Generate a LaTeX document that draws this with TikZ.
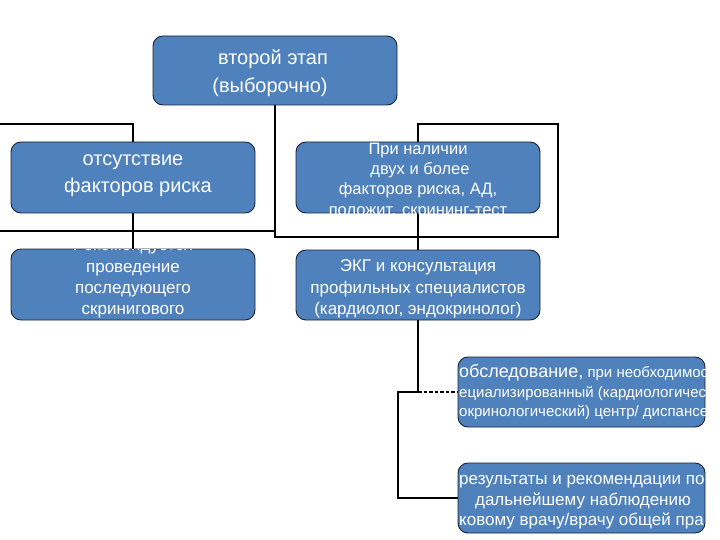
\documentclass[tikz,border=0pt]{standalone}
\usepackage{fontspec}
\setmainfont{Liberation Sans}
\definecolor{boxblue}{RGB}{79,129,189}
\definecolor{boxedge}{RGB}{25,35,55}
\tikzset{
  box/.style={draw=boxedge, line width=0.9pt, fill=boxblue, rounded corners=10pt,
    minimum width=244pt, minimum height=70pt, inner sep=0pt},
  txt/.style={text=white, inner sep=0pt, anchor=base},
  txtl/.style={text=white, inner sep=0pt, anchor=base west},
  conn/.style={draw=black, line width=2pt},
  fA/.style={font=\fontsize{20}{24}\selectfont},
  fC/.style={font=\fontsize{16.5}{20}\selectfont},
  fD/.style={font=\fontsize{17}{20}\selectfont},
  fF/.style={font=\fontsize{15}{18}\selectfont},
}
\begin{document}
\begin{tikzpicture}[x=1pt,y=-1pt]
\useasboundingbox (0,0) rectangle (720,540);
\fill[white] (0,0) rectangle (720,540);

% boxes
\node[box, minimum height=69pt] (A) at (275,70.5) {};
\node[box, minimum height=71pt] (B) at (133,177.5) {};
\node[box, minimum height=71pt] (C) at (418,177.5) {};
\node[box, minimum height=71pt] (D) at (133,284.5) {};
\node[box] (E) at (418,285) {};
\node[box, minimum width=247pt] (F) at (581.5,392) {};
\node[box, minimum width=247pt] (G) at (581.5,498) {};

% connectors
\coordinate (lA) at (0,231);
\coordinate (lB) at (0,124);
\coordinate (rt) at (558,124);
\coordinate (j) at (418,392);
\coordinate (k) at (398,392);
\draw[conn] (A.south) -- ++(0,132) -| (rt) -| (C.north);
\draw[conn] (A.south |- lA) -- (lA);
\draw[conn] (lB) -| (B.north);
\draw[conn] (B.south) -- (D.north);
\draw[conn] (C.south) -- (E.north);
\draw[conn] (E.south) -- (j) -- (k) |- (G.west);
\draw[conn, dash pattern=on 3.5pt off 2pt] (j) -- (F.west);

% texts
\node[txt, fA] (a1) at (273,65) {второй этап};
\node[txt, fA] (a2) at (270,92.5) {(выборочно)};

\node[txt, fA] (b1) at (133,166) {отсутствие};
\node[txt, fA] (b2) at (138,193) {факторов риска};

\begin{scope}
\clip[rounded corners=10pt] (C.south west) rectangle (C.north east);
\node[txt, fC] (c1) at (418,155) {При наличии};
\node[txt, fC] (c2) at (420,175) {двух и более};
\node[txt, fC] (c3) at (418,195) {факторов риска, АД,};
\node[txt, fC] (c4) at (418,215) {положит. скрининг-тест};
\end{scope}

\begin{scope}
\clip[rounded corners=10pt] (D.south west) rectangle (D.north east);
\node[txt, fD] (d0) at (133,251) {Рекомендуется};
\node[txt, fD] (d1) at (133,272) {проведение};
\node[txt, fD] (d2) at (133,293) {последующего};
\node[txt, fD] (d3) at (133,314) {скринигового};
\end{scope}

\node[txt, fD] (e1) at (418,271.5) {ЭКГ и консультация};
\node[txt, fD] (e2) at (418,293) {профильных специалистов};
\node[txt, fD] (e3) at (418,314) {(кардиолог, эндокринолог)};

\begin{scope}
\clip[rounded corners=10pt] (F.south west) rectangle (F.north east);
\node[txtl, fF] (f1) at (459,377.5) {{\fontsize{18}{20}\selectfont обследование,} при необходимост};
\node[txtl, fF] (f2) at (459,397) {ециализированный (кардиологичес};
\node[txtl, fF] (f3) at (459,416) {окринологический) центр/ диспансе};
\end{scope}

\begin{scope}
\clip[rounded corners=10pt] (G.south west) rectangle (G.north east);
\node[txtl, fD] (g1) at (459,484) {результаты и рекомендации по};
\node[txt, fD] (g2) at (583,505) {дальнейшему наблюдению};
\node[txtl, fD] (g3) at (459,525) {ковому врачу/врачу общей пра};
\end{scope}
\end{tikzpicture}
\end{document}
